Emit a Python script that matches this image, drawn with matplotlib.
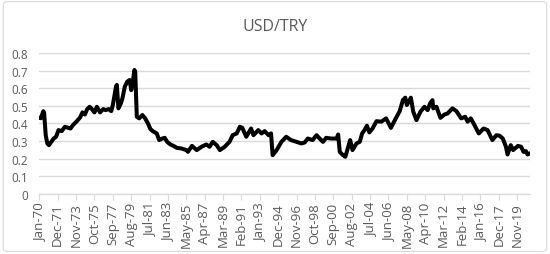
import pandas as pd
import matplotlib
matplotlib.use("Agg")
import matplotlib.pyplot as plt
from matplotlib.patches import FancyBboxPatch

plt.rcParams['font.family'] = ['Open Sans', 'DejaVu Sans']

# month (YYYY-MM) and value
dates = [
    "1970-01", "1970-03", "1970-06", "1970-07", "1970-09", "1970-11", "1971-01", "1971-04",
    "1971-07", "1971-10", "1972-01", "1972-05", "1972-09", "1973-01", "1973-04", "1973-07",
    "1973-12", "1974-04", "1974-07", "1974-10", "1975-01", "1975-04", "1975-06", "1975-10",
    "1976-01", "1976-05", "1976-09", "1976-12", "1977-04", "1977-07", "1977-09", "1978-01",
    "1978-02", "1978-04", "1978-07", "1978-09", "1978-12", "1979-03", "1979-06", "1979-08",
    "1979-10", "1979-12", "1980-01", "1980-03", "1980-06", "1980-10", "1981-01", "1981-05",
    "1981-08", "1981-11", "1982-04", "1982-07", "1982-11", "1983-02", "1983-05", "1983-09",
    "1984-01", "1984-05", "1984-11", "1985-05", "1985-07", "1985-12", "1986-06", "1986-12",
    "1987-06", "1987-10", "1988-02", "1988-07", "1988-11", "1989-05", "1989-11", "1990-03",
    "1990-08", "1990-12", "1991-03", "1991-08", "1992-02", "1992-05", "1992-11", "1993-03",
    "1993-07", "1993-12", "1994-03", "1994-05", "1994-10", "1995-04", "1995-10", "1996-04",
    "1996-11", "1997-05", "1997-09", "1998-01", "1998-07", "1998-12", "1999-03", "1999-08",
    "1999-12", "2000-06", "2001-01", "2001-03", "2001-05", "2001-09", "2001-12", "2002-03",
    "2002-06", "2002-09", "2003-02", "2003-06", "2003-09", "2003-12", "2004-03", "2004-06",
    "2004-10", "2005-03", "2005-09", "2006-03", "2006-09", "2007-02", "2007-08", "2007-12",
    "2008-03", "2008-05", "2008-10", "2009-01", "2009-05", "2009-10", "2010-03", "2010-07",
    "2010-10", "2011-01", "2011-02", "2011-06", "2011-11", "2012-04", "2012-08", "2013-02",
    "2013-07", "2014-01", "2014-06", "2014-09", "2015-01", "2015-06", "2015-11", "2016-05",
    "2016-10", "2017-04", "2017-09", "2018-01", "2018-05", "2018-09", "2018-11", "2019-03",
    "2019-06", "2019-12", "2020-04", "2020-07", "2020-10", "2020-12", "2021-03",
]
usd_try = [
    0.432, 0.430, 0.470, 0.460, 0.333, 0.286, 0.276, 0.295,
    0.314, 0.324, 0.362, 0.356, 0.381, 0.375, 0.371, 0.390,
    0.413, 0.434, 0.463, 0.451, 0.482, 0.495, 0.486, 0.463,
    0.495, 0.463, 0.482, 0.476, 0.482, 0.470, 0.505, 0.610,
    0.620, 0.486, 0.514, 0.543, 0.610, 0.638, 0.648, 0.590,
    0.638, 0.705, 0.695, 0.438, 0.429, 0.448, 0.432, 0.400,
    0.368, 0.356, 0.343, 0.305, 0.314, 0.318, 0.295, 0.280,
    0.272, 0.261, 0.257, 0.248, 0.238, 0.272, 0.248, 0.267,
    0.280, 0.267, 0.295, 0.276, 0.248, 0.267, 0.295, 0.333,
    0.343, 0.381, 0.375, 0.324, 0.371, 0.333, 0.362, 0.343,
    0.356, 0.333, 0.343, 0.219, 0.248, 0.295, 0.324, 0.305,
    0.295, 0.286, 0.291, 0.314, 0.305, 0.333, 0.318, 0.295,
    0.318, 0.314, 0.314, 0.337, 0.238, 0.219, 0.210, 0.257,
    0.305, 0.248, 0.286, 0.295, 0.343, 0.362, 0.387, 0.349,
    0.371, 0.413, 0.410, 0.429, 0.375, 0.419, 0.470, 0.533,
    0.547, 0.505, 0.547, 0.467, 0.419, 0.467, 0.495, 0.476,
    0.514, 0.533, 0.486, 0.495, 0.432, 0.451, 0.457, 0.486,
    0.470, 0.429, 0.438, 0.410, 0.429, 0.387, 0.343, 0.371,
    0.362, 0.305, 0.333, 0.330, 0.314, 0.267, 0.223, 0.276,
    0.248, 0.272, 0.267, 0.238, 0.242, 0.223, 0.229,
]
title = "USD/TRY"

d = pd.to_datetime(dates)
x = (d.year - 1970) * 12 + (d.month - 1)

fig = plt.figure(figsize=(5.5, 2.55), dpi=100)
fig.patches.append(FancyBboxPatch((0.006, 0.01), 0.988, 0.98, boxstyle="round,pad=0,rounding_size=0.01",
                                  transform=fig.transFigure, fill=False, edgecolor="#d9d9d9", lw=0.8))
ax = fig.add_axes([0.0715, 0.237, 0.892, 0.55])

ax.plot(x, usd_try, color="black", lw=2.9, solid_joinstyle="round")

ax.set_xlim(0, 614)
ax.set_ylim(0, 0.8)
ax.set_yticks([i / 10 for i in range(9)])
ax.set_yticklabels(["0"] + [f"{i / 10:.1f}" for i in range(1, 9)])
ax.grid(axis="y", color="#d9d9d9", lw=1)
ax.set_axisbelow(True)

ticks = list(range(0, 600, 23))
labels = [pd.Timestamp(1970 + t // 12, t % 12 + 1, 1).strftime("%b-%y") for t in ticks]
ax.set_xticks(ticks)
ax.set_xticklabels(labels, rotation=90)

for s in ["top", "right", "left"]:
    ax.spines[s].set_visible(False)
ax.spines["bottom"].set_color("#d9d9d9")
ax.tick_params(axis="y", length=0, labelsize=8.5, labelcolor="#595959", pad=8)
ax.tick_params(axis="x", length=4, color="#d9d9d9", labelsize=9.5, labelcolor="#595959", pad=2)

fig.text(0.5, 0.894, title, ha="center", va="center", fontsize=11.5, color="#595959")

fig.savefig("out.png", dpi=100)
